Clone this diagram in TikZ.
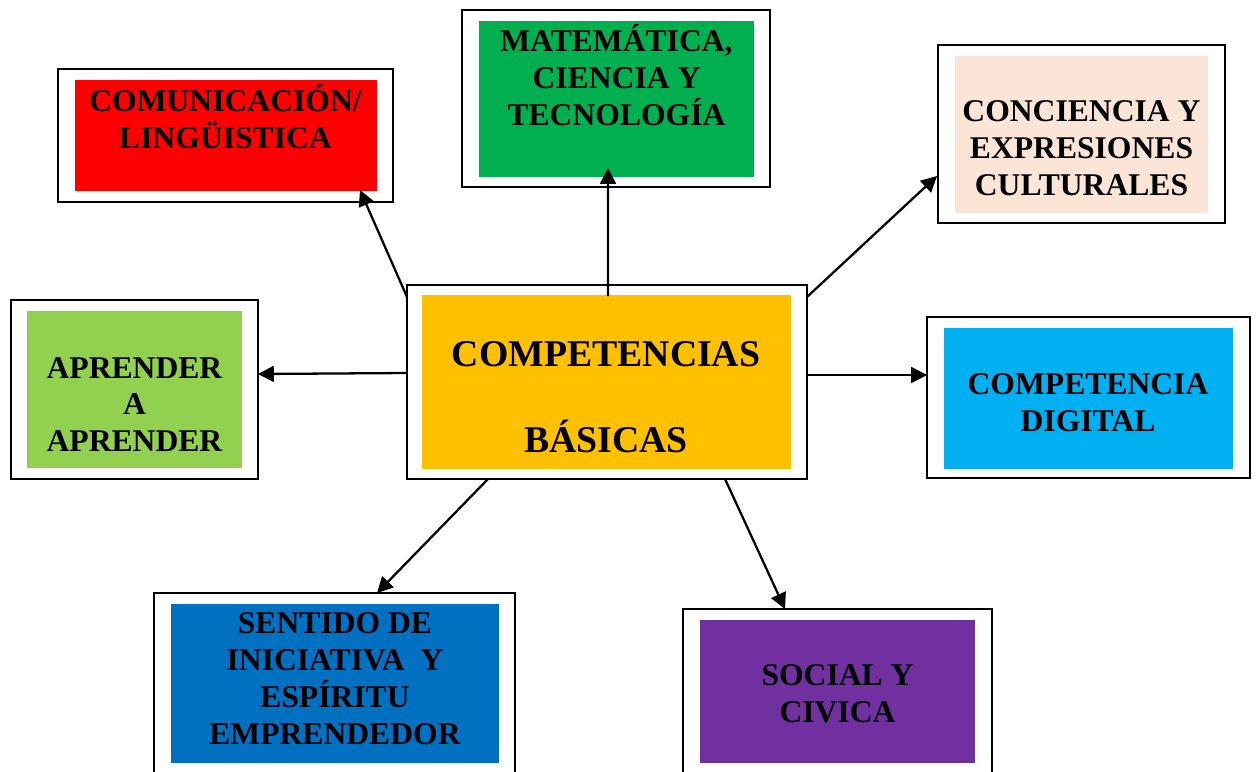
\documentclass[tikz,border=0pt]{standalone}
\usepackage{fontspec}
\setmainfont{Liberation Serif}
\usepackage{tikz}
\usetikzlibrary{arrows.meta, positioning}
\definecolor{C_RED}  {HTML}{FF0000}
\definecolor{C_GREEN}{HTML}{00B050}
\definecolor{C_PEACH}{HTML}{FBE5D6}
\definecolor{C_LIME} {HTML}{92D050}
\definecolor{C_GOLD} {HTML}{FFC000}
\definecolor{C_SKY}  {HTML}{00B0F0}
\definecolor{C_BLUE} {HTML}{0070C0}
\definecolor{C_PURP} {HTML}{7030A0}
\tikzset{
  %% -- white outer frame --
  CB/frame/.style={draw=black, line width=1.1pt, fill=white,
    inner sep=0pt, outer sep=0pt},
  %% -- coloured card inside a frame --
  CB/card/.style={fill=#1, draw=none, inner sep=0pt, outer sep=0pt},
  %% -- card text --
  CB/txt/.style={font=\fontsize{18}{21}\selectfont\bfseries,
    align=center, inner sep=0pt},
  %% -- centre text --
  CB/big/.style={font=\fontsize{21.5}{24.5}\selectfont\bfseries,
    align=center, inner sep=0pt},
  %% -- connector --
  CB/arr/.style={-{Triangle[length=9pt, width=9pt]}, line width=1.3pt},
}
\begin{document}
\begin{tikzpicture}[x=0.02cm, y=-0.02cm]
\useasboundingbox (0,0) rectangle (1257,771);
\clip (0,0) rectangle (1257,771);

%% ── Outer frames ─────────────────────────────────────────────
\node[CB/frame, minimum width=6.70cm, minimum height=2.66cm] (com) at (225.5,135.5) {};
\node[CB/frame, minimum width=6.16cm, minimum height=3.54cm] (mat) at (616,98.5) {};
\node[CB/frame, minimum width=5.74cm, minimum height=3.56cm] (con) at (1081.5,134) {};
\node[CB/frame, minimum width=4.94cm, minimum height=3.58cm] (apr) at (134.5,389.5) {};
\node[CB/frame, minimum width=8.00cm, minimum height=3.88cm] (cen) at (607,382) {};
\node[CB/frame, minimum width=6.46cm, minimum height=3.22cm] (dig) at (1088.5,397.5) {};
\node[CB/frame, minimum width=7.22cm, minimum height=3.62cm] (sen) at (334.5,683.5) {};
\node[CB/frame, minimum width=6.18cm, minimum height=3.30cm] (soc) at (837.5,691.5) {};

%% ── Coloured cards ───────────────────────────────────────────
\node[CB/card=C_RED,   minimum width=6.04cm, minimum height=2.22cm] (comC) at (226,135.5) {};
\node[CB/card=C_GREEN, minimum width=5.50cm, minimum height=3.12cm] (matC) at (616.5,99) {};
\node[CB/card=C_PEACH, minimum width=5.06cm, minimum height=3.14cm] (conC) at (1081.5,134.5) {};
\node[CB/card=C_LIME,  minimum width=4.30cm, minimum height=3.14cm] (aprC) at (134.5,389.5) {};
\node[CB/card=C_GOLD,  minimum width=7.38cm, minimum height=3.48cm] (cenC) at (606.5,382) {};
\node[CB/card=C_SKY,   minimum width=5.78cm, minimum height=2.82cm] (digC) at (1088.5,398.5) {};
\node[CB/card=C_BLUE,  minimum width=6.56cm, minimum height=3.18cm] (senC) at (335,683.5) {};
\node[CB/card=C_PURP,  minimum width=5.50cm, minimum height=2.86cm] (socC) at (837.5,691.5) {};

%% ── Texts ────────────────────────────────────────────────────
\node[CB/txt] (comT) at (225.5,116.5) {COMUNICACIÓN/\\LINGÜISTICA};
\node[CB/txt] (matT) at (616.5,75) {MATEMÁTICA,\\CIENCIA Y\\TECNOLOGÍA};
\node[CB/txt] (conT) at (1081.5,148.5) {CONCIENCIA Y\\EXPRESIONES\\CULTURALES};
\node[CB/txt] (aprT) at (134.5,404.5) {APRENDER\\A\\APRENDER};
\node[CB/big] (cenT) at (606,397.5) {COMPETENCIAS\\[24.5pt]BÁSICAS};
\node[CB/txt] (digT) at (1088,402.5) {COMPETENCIA\\DIGITAL};
\node[CB/txt] (senT) at (335,678.5) {SENTIDO DE\\INICIATIVA\ \ Y\\ESPÍRITU\\EMPRENDEDOR};
\node[CB/txt] (socT) at (837.5,694) {SOCIAL Y\\CIVICA};

%% ── Connectors ───────────────────────────────────────────────
\draw[CB/arr] ([shift={(0,12)}]cen.north west) -- ([shift={(-17,-1)}]comC.south east);
\draw[CB/arr] ([shift={(1.5,1)}]cenC.north) -- ([shift={(-8.5,-9)}]matC.south);
\draw[CB/arr] ([shift={(0,12)}]cen.north east) -- ([shift={(-1,-47)}]con.south west);
\draw[CB/arr] ([shift={(0,-9)}]cen.west) -- ([shift={(0,-15.5)}]apr.east);
\draw[CB/arr] ([shift={(0,-7)}]cen.east) -- ([shift={(0,-22.5)}]dig.west);
\draw[CB/arr] ([shift={(81,0)}]cen.south west) -- ([shift={(42.5,0)}]sen.north);
\draw[CB/arr] ([shift={(118,0)}]cen.south) -- ([shift={(-52.5,0)}]soc.north);

\end{tikzpicture}
\end{document}
